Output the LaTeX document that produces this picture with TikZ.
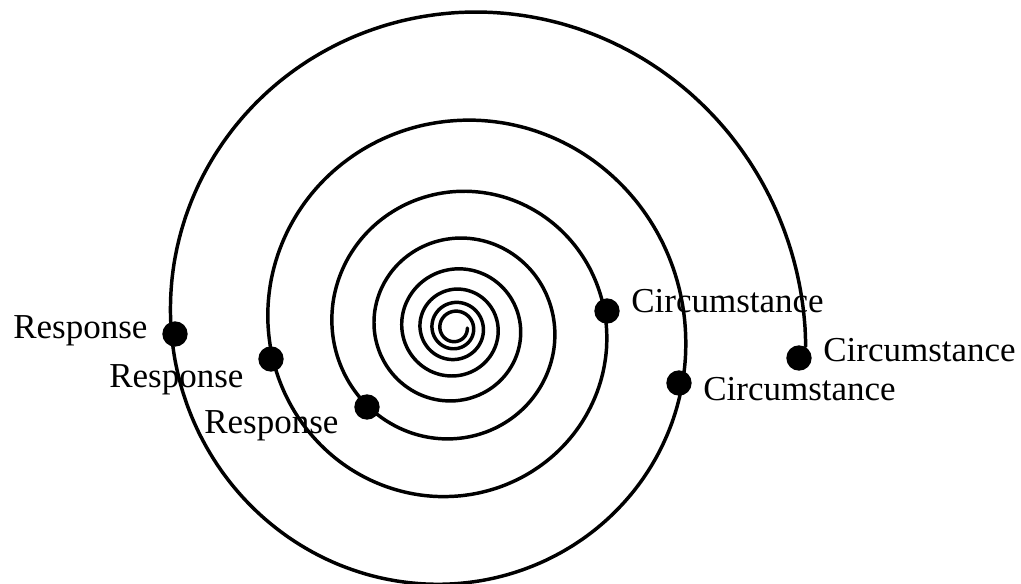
\documentclass[tikz,border=0pt]{standalone}
\usepackage{fontspec}
\setmainfont{Liberation Serif}
\begin{document}
\begin{tikzpicture}[x=0.75pt,y=-0.75pt,
  spiralline/.style={line width=2.6pt, line join=round, line cap=round},
  dotnode/.style={circle, fill=black, draw=none, inner sep=0pt, minimum size=19pt},
  lbl/.style={anchor=base west, inner sep=0pt, font=\fontsize{26.25}{30}\selectfont}]
\useasboundingbox (0,0) rectangle (1021,584);
% logarithmic spiral, centre (455,328), growth 1.52 per turn
\draw[spiralline] plot[domain=0:2883, samples=900, smooth, variable=\t]
  ({455+350*exp(0.41871*(\t-2880)/360)*cos(\t)},
   {328+350*exp(0.41871*(\t-2880)/360)*sin(\t)});
% dots
\node[dotnode] (r1) at (175,334) {};
\node[dotnode] (r2) at (271,359) {};
\node[dotnode] (r3) at (367,407) {};
\node[dotnode] (c1) at (607,311) {};
\node[dotnode] (c2) at (679,383) {};
\node[dotnode] (c3) at (799,358) {};
% labels
\node[lbl] (lr1) at (13,339) {Response};
\node[lbl] (lr2) at (109,388) {Response};
\node[lbl] (lr3) at (204,434) {Response};
\node[lbl] (lc1) at (631,313) {Circumstance};
\node[lbl] (lc2) at (703,401) {Circumstance};
\node[lbl] (lc3) at (823,362) {Circumstance};
\end{tikzpicture}
\end{document}
